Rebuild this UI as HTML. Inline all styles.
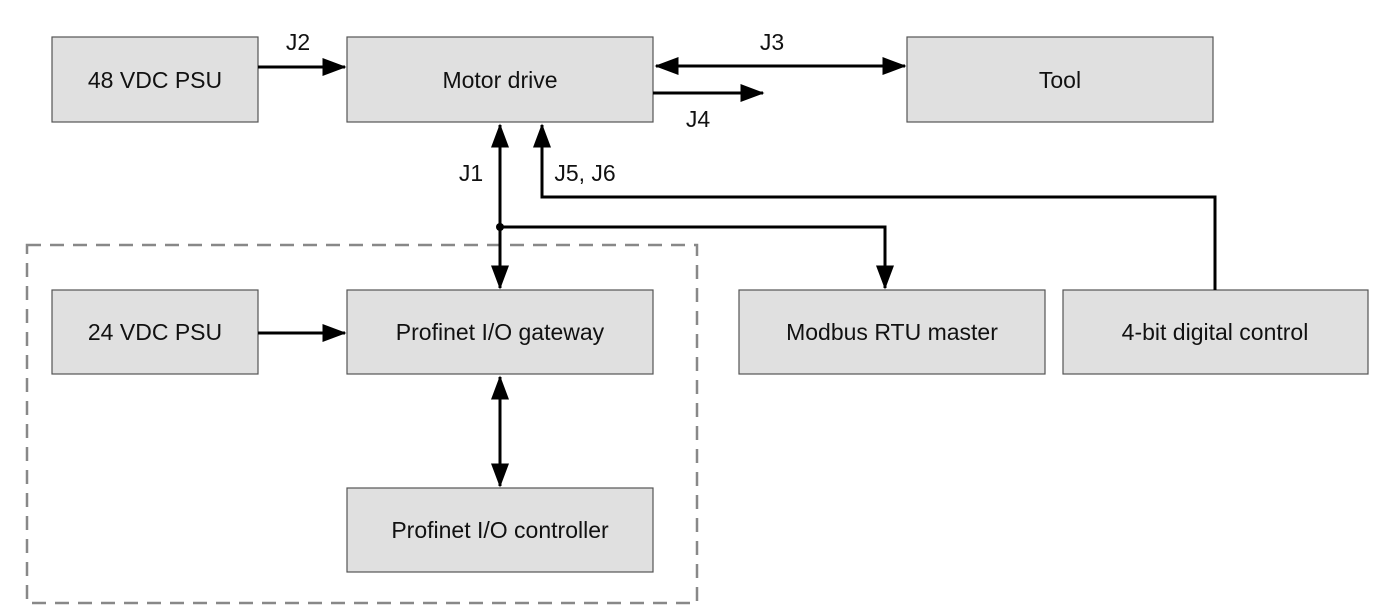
<!DOCTYPE html>
<html><head><style>
body{margin:0;background:#fff;}
svg{display:block;font-family:"Liberation Sans",sans-serif;}
.b{fill:#e0e0e0;stroke:#555;stroke-width:1.2}
.t{font-size:23px;fill:#111;text-anchor:middle;dominant-baseline:central}
.l{stroke:#000;stroke-width:3;fill:none}
</style></head><body>
<svg width="1375" height="616" viewBox="0 0 1375 616">
<defs>
<marker id="a" markerWidth="8" markerHeight="6" refX="7.5" refY="3" orient="auto-start-reverse" markerUnits="strokeWidth"><path d="M0,0L8,3L0,6z" fill="#000"/></marker>
</defs>
<rect x="27" y="245" width="670" height="358" fill="none" stroke="#888" stroke-width="2.5" stroke-dasharray="14,9"/>
<rect class="b" x="52" y="37" width="206" height="85"/><text class="t" x="155" y="80">48 VDC PSU</text>
<rect class="b" x="347" y="37" width="306" height="85"/><text class="t" x="500" y="80">Motor drive</text>
<rect class="b" x="907" y="37" width="306" height="85"/><text class="t" x="1060" y="80">Tool</text>
<rect class="b" x="52" y="290" width="206" height="84"/><text class="t" x="155" y="332">24 VDC PSU</text>
<rect class="b" x="347" y="290" width="306" height="84"/><text class="t" x="500" y="332">Profinet I/O gateway</text>
<rect class="b" x="739" y="290" width="306" height="84"/><text class="t" x="892" y="332">Modbus RTU master</text>
<rect class="b" x="1063" y="290" width="305" height="84"/><text class="t" x="1215" y="332">4-bit digital control</text>
<rect class="b" x="347" y="488" width="306" height="84"/><text class="t" x="500" y="530">Profinet I/O controller</text>
<line class="l" x1="258" y1="67" x2="345" y2="67" marker-end="url(#a)"/>
<line class="l" x1="656" y1="66" x2="905" y2="66" marker-start="url(#a)" marker-end="url(#a)"/>
<line class="l" x1="653" y1="93" x2="763" y2="93" marker-end="url(#a)"/>
<line class="l" x1="500" y1="125" x2="500" y2="288" marker-start="url(#a)" marker-end="url(#a)"/>
<polyline class="l" points="1215,290 1215,197 542,197 542,125" marker-end="url(#a)"/>
<polyline class="l" points="500,227 885,227 885,288" marker-end="url(#a)"/>
<circle cx="500" cy="227" r="4" fill="#000"/>
<line class="l" x1="258" y1="333" x2="345" y2="333" marker-end="url(#a)"/>
<line class="l" x1="500" y1="377" x2="500" y2="486" marker-start="url(#a)" marker-end="url(#a)"/>
<text class="t" x="298" y="42">J2</text>
<text class="t" x="772" y="42">J3</text>
<text class="t" x="698" y="119">J4</text>
<text class="t" x="471" y="173">J1</text>
<text class="t" x="585" y="173">J5, J6</text>
</svg>
</body></html>
